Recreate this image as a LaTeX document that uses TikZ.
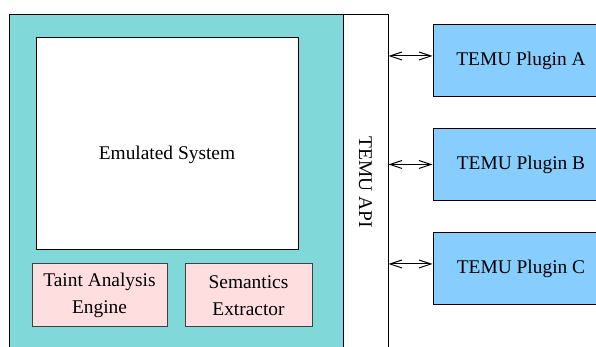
\documentclass[tikz,border=0pt]{standalone}
\usepackage{fontspec}
\setmainfont{Liberation Serif}
\usetikzlibrary{arrows.meta}

\definecolor{emucyan}{RGB}{128,216,216}
\definecolor{modpink}{RGB}{255,222,224}
\definecolor{plugblue}{RGB}{135,206,255}

\begin{document}
\begin{tikzpicture}[x=0.5pt,y=-0.5pt,<->,>={Straight Barb[length=6pt,width=4pt]},
  line width=0.5pt,node distance=52pt,
  box/.style={rectangle,draw,inner sep=2pt,font=\fontsize{9.7}{13.3}\selectfont},
  module/.style={box,fill=modpink,draw=black!75,align=center,minimum height=31.5pt},
  plugin/.style={box,fill=plugblue,minimum width=88pt,minimum height=36pt}]

 \useasboundingbox (0,0) rectangle (596,347);
 \clip (0,0) rectangle (596,347);

 \node[box,fill=emucyan,minimum width=167pt,minimum height=167pt] (temu) at (176,182) {};
 \node[box,fill=white,minimum width=22.5pt,minimum height=167pt] (api) at (365.5,182) {};
 \node[font=\fontsize{9.7}{13.3}\selectfont,rotate=-90] (apilabel) at (api) {TEMU API};

 \node[box,fill=white,minimum width=131pt,minimum height=106pt,
   text height=16pt,text depth=0pt] (emu) at (167,144) {Emulated System};
 \node[module,minimum width=67.5pt] (taint) at (99.5,295.5) {Taint Analysis\\Engine};
 \node[module,minimum width=63.5pt] (sem) at (248.5,295.5) {Semantics\\Extractor};

 \node[plugin] (pA) at (521,60.5) {TEMU Plugin A};
 \node[plugin] (pB) [below of=pA] {TEMU Plugin B};
 \node[plugin] (pC) [below of=pB] {TEMU Plugin C};

 \path
    ([yshift=2.25pt]pA.west -| api.east) edge ([yshift=2.25pt]pA.west)
    (pB -| api.east) edge (pB.west)
    ([yshift=2.25pt]pC.west -| api.east) edge ([yshift=2.25pt]pC.west);

\end{tikzpicture}
\end{document}
